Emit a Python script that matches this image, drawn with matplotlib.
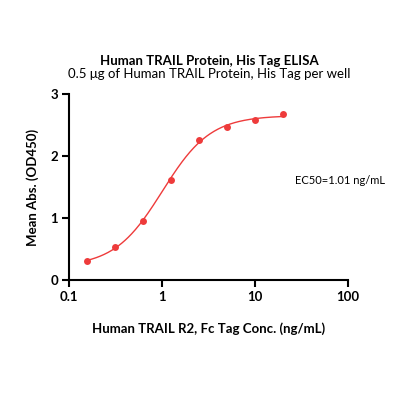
import numpy as np
import matplotlib
matplotlib.use("Agg")
import matplotlib.pyplot as plt

plt.rcParams["font.family"] = ["Lato", "DejaVu Sans"]

# ==========================================================
# data
# ==========================================================

conc = [0.156, 0.3125, 0.625, 1.25, 2.5, 5, 10, 20]
od450 = [0.31, 0.54, 0.95, 1.62, 2.26, 2.47, 2.58, 2.67]

ec50 = 1.01

x_ticks = [0.1, 1, 10, 100]
y_ticks = [0, 1, 2, 3]

red = "#ee3b3b"

# ==========================================================
# 4PL fit with EC50 fixed (grid over hill, linear for bottom/top)
# ==========================================================

xd = np.array(conc)
yd = np.array(od450)
best = None
for hill in np.linspace(0.5, 3, 251):
    f = 1 / (1 + (ec50 / xd) ** hill)
    A = np.column_stack([1 - f, f])
    coef, res, *_ = np.linalg.lstsq(A, yd, rcond=None)
    err = np.sum((A @ coef - yd) ** 2)
    if best is None or err < best[0]:
        best = (err, hill, coef)
_, hill, (bottom, top) = best

xs = np.logspace(np.log10(conc[0]), np.log10(conc[-1]), 300)
ys = bottom + (top - bottom) / (1 + (ec50 / xs) ** hill)

# ==========================================================
# figure
# ==========================================================

fig = plt.figure(figsize=(4, 4), dpi=100)
ax = fig.add_axes([0.1725, 0.30, 0.6975, 0.465])

ax.plot(xs, ys, color=red, linewidth=1, zorder=2)
ax.scatter(conc, od450, s=25, color=red, zorder=3, linewidths=0)

ax.set_xscale("log")
ax.set_xlim(0.1, 100)
ax.set_ylim(0, 3)
ax.set_xticks(x_ticks)
ax.set_xticklabels(["0.1", "1", "10", "100"])
ax.set_yticks(y_ticks)
ax.minorticks_off()

for s in ["top", "right"]:
    ax.spines[s].set_visible(False)
for s in ["left", "bottom"]:
    ax.spines[s].set_linewidth(1.5)
ax.tick_params(width=1.5, length=5, labelsize=9.5, pad=3)
for lab in ax.get_xticklabels() + ax.get_yticklabels():
    lab.set_fontweight("bold")

ax.set_xlabel("Human TRAIL R2, Fc Tag Conc. (ng/mL)", fontsize=9.5,
              fontweight="bold", labelpad=14)
ax.set_ylabel("Mean Abs. (OD450)", fontsize=9.5, fontweight="bold", labelpad=8)

fig.text(0.523, 0.847, "Human TRAIL Protein, His Tag ELISA", ha="center",
         va="center", fontsize=9.5, fontweight="bold")
fig.text(0.523, 0.815, "0.5 μg of Human TRAIL Protein, His Tag per well",
         ha="center", va="center", fontsize=9.5)
fig.text(0.7375, 0.5475, f"EC50={ec50:.2f} ng/mL", fontsize=8, va="center")

fig.savefig("out.png", dpi=100)
